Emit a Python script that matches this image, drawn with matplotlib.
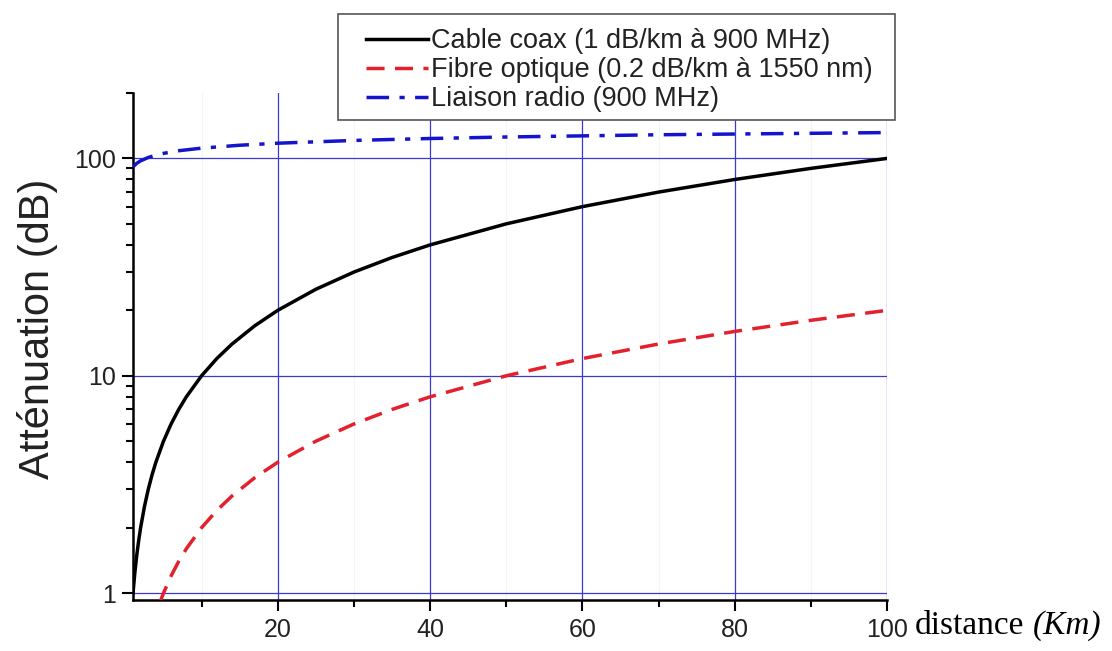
import matplotlib
matplotlib.use("Agg")
import matplotlib.pyplot as plt
from matplotlib.patches import Rectangle
from matplotlib.ticker import FixedLocator, NullFormatter, LogLocator

# values
coax_km = [1, 1.25, 1.5, 1.75, 2, 2.5, 3, 3.5, 4, 5, 6, 7, 8, 10, 12, 14, 17, 20,
           25, 30, 35, 40, 50, 60, 70, 80, 90, 100]
coax_db = [1, 1.25, 1.5, 1.75, 2, 2.5, 3, 3.5, 4, 5, 6, 7, 8, 10, 12, 14, 17, 20,
           25, 30, 35, 40, 50, 60, 70, 80, 90, 100]

fibre_km = [4.5, 5, 6, 7, 8, 10, 12, 14, 17, 20, 25, 30, 35, 40, 50, 60, 70, 80, 90, 100]
fibre_db = [0.9, 1.0, 1.2, 1.4, 1.6, 2.0, 2.4, 2.8, 3.4, 4.0, 5.0, 6.0, 7.0, 8.0,
            10, 12, 14, 16, 18, 20]

radio_km = [1, 1.5, 2, 3, 4, 5, 7, 10, 15, 20, 30, 40, 50, 60, 70, 80, 90, 100]
radio_db = [91.5, 95, 97.5, 101, 103.5, 105.5, 108.5, 111.5, 115, 117.5, 121,
            123.5, 125.5, 127, 128.5, 129.5, 130.5, 131.5]

x_major = [20, 40, 60, 80, 100]
x_minor = [10, 30, 50, 70, 90]
y_major = [1, 10, 100]
y_labels = ["1", "10", "100"]

labels = ["Cable coax (1 dB/km à 900 MHz)",
          "Fibre optique (0.2 dB/km à 1550 nm)",
          "Liaison radio (900 MHz)"]

plt.rcParams["font.family"] = ["Liberation Sans", "DejaVu Sans"]

W, H = 1112, 651
fig = plt.figure(figsize=(W / 100, H / 100), dpi=100)
ax = fig.add_axes([133 / W, 1 - 600 / H, 754 / W, 507 / H])

grid_col = "#3a3acc"
ax.set_yscale("log")
ax.set_xlim(1, 100)
ax.set_ylim(0.93, 200)

# faint minor grid, blue major grid
for v in x_minor:
    ax.axvline(v, color="#f4f4f4", lw=0.8, zorder=0)
for v in x_major:
    ax.axvline(v, color=grid_col, lw=0.9, zorder=1)
for v in y_major:
    ax.axhline(v, color=grid_col, lw=0.9, zorder=1)

l1, = ax.plot(coax_km, coax_db, color="black", lw=2.5, zorder=3)
l2, = ax.plot(fibre_km, fibre_db, color="#e3202c", lw=2.5,
              linestyle=(0, (5.2, 3.0)), zorder=3)
l3, = ax.plot(radio_km, radio_db, color="#1414cc", lw=2.5,
              linestyle=(0, (6.5, 3.0, 1.5, 3.0)), zorder=3)

ax.xaxis.set_major_locator(FixedLocator(x_major))
ax.xaxis.set_minor_locator(FixedLocator(x_minor))
ax.set_xticklabels([str(v) for v in x_major])
ax.yaxis.set_major_locator(FixedLocator(y_major))
ax.set_yticklabels(y_labels)
ax.yaxis.set_minor_locator(LogLocator(base=10, subs=range(2, 10)))
ax.yaxis.set_minor_formatter(NullFormatter())

ax.tick_params(axis="both", which="major", direction="out", length=8, width=1.5,
               labelsize=18, colors="black", labelcolor="#222222")
ax.tick_params(axis="both", which="minor", direction="out", length=5, width=1.5)
ax.tick_params(axis="x", which="major", pad=5)
ax.tick_params(axis="y", which="major", pad=4)

for s in ["top", "right"]:
    ax.spines[s].set_visible(False)
for s in ["left", "bottom"]:
    ax.spines[s].set_linewidth(1.8)

ax.set_ylabel("Atténuation (dB)", fontsize=30, color="#222222")
ax.yaxis.set_label_coords(-0.100, 0.535)

# x label as figure text to the right of the last tick label
t1 = fig.text(915 / W, 1 - 634 / H, "distance", fontsize=24,
              family="Liberation Serif", ha="left", va="baseline")
fig.canvas.draw()
bb = t1.get_window_extent(renderer=fig.canvas.get_renderer())
fig.text(bb.x1 / W + 8 / W, 1 - 634 / H, "(Km)", fontsize=24,
         family="Liberation Serif", style="italic", ha="left", va="baseline")

# legend box drawn separately, entries placed inside it
fig.patches.append(Rectangle((338 / W, 1 - 120 / H), 557 / W, 106 / H,
                             transform=fig.transFigure, facecolor="white",
                             edgecolor="#555555", lw=1.2, zorder=5))
leg = fig.legend([l1, l2, l3], labels, loc="upper left",
                 bbox_to_anchor=(366 / W, 1 - 28 / H),
                 fontsize=19.5, frameon=False,
                 handlelength=2.3, handletextpad=0.1, labelspacing=0.12,
                 borderpad=0, borderaxespad=0)
leg.set_zorder(6)
for t in leg.get_texts():
    t.set_color("#222222")

fig.savefig("out.png", dpi=100)
plt.close(fig)
